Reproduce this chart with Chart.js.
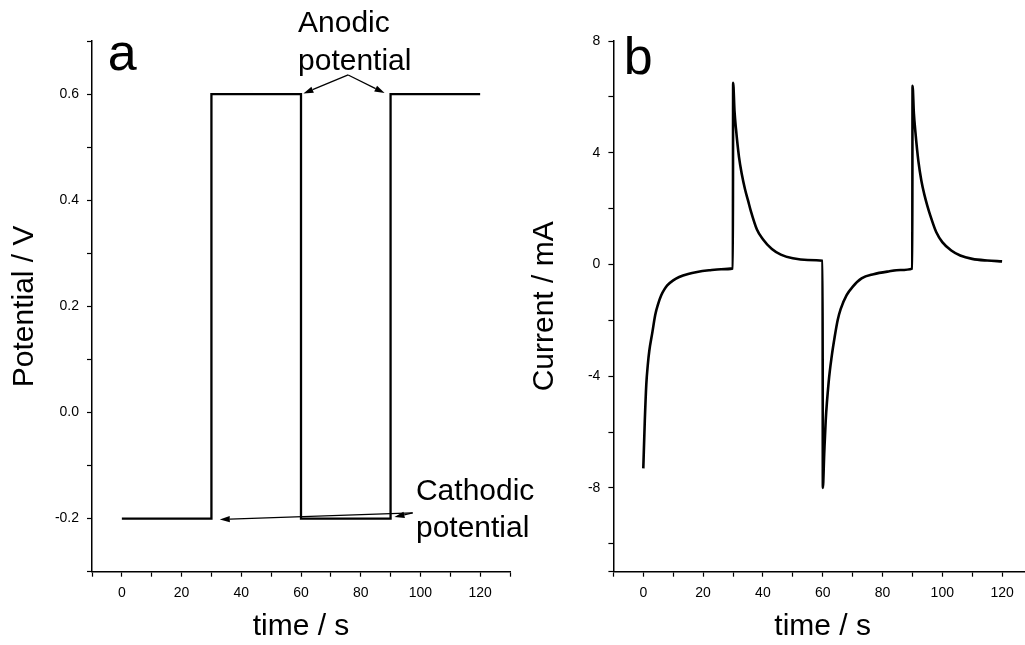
<!DOCTYPE html>
<html>
<head>
<meta charset="utf-8">
<title>Potential step and current response</title>
<script src="https://cdn.jsdelivr.net/npm/chart.js@4.4.6/dist/chart.umd.min.js"></script>
<style>
  html, body { margin: 0; padding: 0; background: #fff; overflow: hidden; }
  .panel { position: absolute; top: 0; height: 645px; }
  #panelA { left: 0; width: 570px; }
  #panelB { left: 520px; width: 530px; }
</style>
</head>
<body>
<div class="panel" id="panelA"><canvas id="chartA"></canvas></div>
<div class="panel" id="panelB"><canvas id="chartB"></canvas></div>
<script>
// panel a: applied potential (V) vs time (s)
const timeA = [0, 30, 30, 60, 60, 90, 90, 120]
const potentialA = [-0.2, -0.2, 0.6, 0.6, -0.2, -0.2, 0.6, 0.6]

// panel b: measured current (mA) vs time (s)
const timeB = [
    0, 0.5, 1, 1.5, 2, 3, 4, 5, 6, 7, 8, 10, 12, 15, 18, 22, 26, 29.95,
    30.05, 30.5, 31, 32, 33, 34, 35, 36, 38, 40, 43, 46, 50, 55, 59.95,
    60.05, 60.5, 61, 62, 63, 64, 65, 66, 68, 70, 73, 77, 82, 86, 89.95,
    90.05, 90.5, 91, 92, 93, 94, 95, 96, 98, 100, 103, 106, 110, 115, 120
]
const currentB = [
    -7.3, -5.6, -4.3, -3.6, -3.1, -2.45, -1.8, -1.4, -1.1, -0.9, -0.75, -0.57, -0.45, -0.34, -0.27, -0.21, -0.17, -0.14,
    6.5, 5.5, 4.85, 3.85, 3.2, 2.7, 2.3, 1.9, 1.25, 0.9, 0.55, 0.35, 0.22, 0.16, 0.13,
    -8.0, -6.8, -5.6, -4.2, -3.3, -2.6, -2.0, -1.6, -1.1, -0.8, -0.5, -0.35, -0.25, -0.2, -0.15,
    6.4, 5.4, 4.75, 3.7, 3.0, 2.5, 2.1, 1.75, 1.15, 0.8, 0.5, 0.32, 0.2, 0.14, 0.11
]

const FONT = 'Arial, "Liberation Sans", sans-serif'

// text labels and arrows drawn in data coordinates
const notesPlugin = {
    id: "notes",
    afterDraw(chart, args, opts) {
        const { ctx } = chart
        const sx = chart.scales.x
        const sy = chart.scales.y
        ctx.save()
        ctx.fillStyle = "#000"
        ctx.strokeStyle = "#000"
        ;(opts.texts || []).forEach(t => {
            ctx.font = `${t.size}px ${FONT}`
            ctx.textAlign = "left"
            ctx.textBaseline = "alphabetic"
            const px = sx.getPixelForValue(t.x)
            const py = sy.getPixelForValue(t.y)
            t.lines.forEach((line, i) => ctx.fillText(line, px, py + i * t.gap))
        })
        ;(opts.arrows || []).forEach(a => {
            const x1 = sx.getPixelForValue(a.from[0])
            const y1 = sy.getPixelForValue(a.from[1])
            const x2 = sx.getPixelForValue(a.to[0])
            const y2 = sy.getPixelForValue(a.to[1])
            const ang = Math.atan2(y2 - y1, x2 - x1)
            const len = 10, half = 3.2
            const bx = x2 - len * Math.cos(ang)
            const by = y2 - len * Math.sin(ang)
            ctx.lineWidth = 1.3
            ctx.beginPath()
            ctx.moveTo(x1, y1)
            ctx.lineTo(bx, by)
            ctx.stroke()
            ctx.beginPath()
            ctx.moveTo(x2, y2)
            ctx.lineTo(bx + half * Math.sin(ang), by - half * Math.cos(ang))
            ctx.lineTo(bx - half * Math.sin(ang), by + half * Math.cos(ang))
            ctx.closePath()
            ctx.fill()
        })
        ctx.restore()
    }
}

function xScale() {
    return {
        type: "linear",
        min: -10,
        max: 130,
        ticks: {
            stepSize: 10,
            autoSkip: false,
            maxRotation: 0,
            color: "#000",
            padding: 8,
            font: { size: 14, family: FONT },
            callback: v => (v >= 0 && v % 20 === 0 ? String(v) : "")
        },
        grid: { drawOnChartArea: false, drawTicks: true, tickLength: 5, tickWidth: 1.2, tickColor: "#000" },
        border: { color: "#000", width: 1.5 },
        title: {
            display: true,
            text: "time / s",
            color: "#000",
            font: { size: 30, family: FONT },
            padding: { top: 0, bottom: 0 }
        },
        afterFit: s => { s.height = 73.3 }
    }
}

function yScale(min, max, step, label, width, callback) {
    return {
        type: "linear",
        min: min,
        max: max,
        ticks: {
            stepSize: step,
            autoSkip: false,
            color: "#000",
            padding: 8,
            font: { size: 14, family: FONT },
            callback: callback
        },
        grid: { drawOnChartArea: false, drawTicks: true, tickLength: 5, tickWidth: 1.2, tickColor: "#000" },
        border: { color: "#000", width: 1.5 },
        title: {
            display: true,
            text: label,
            color: "#000",
            font: { size: 30, family: FONT },
            padding: { top: 6.5, bottom: 0 }
        },
        afterFit: s => { s.width = width }
    }
}

function lineData(xs, ys) {
    return xs.map((x, i) => ({ x: x, y: ys[i] }))
}

new Chart(document.getElementById("chartA"), {
    type: "line",
    data: {
        datasets: [{
            data: lineData(timeA, potentialA),
            borderColor: "#000",
            borderWidth: 2.3,
            pointRadius: 0,
            tension: 0
        }]
    },
    options: {
        responsive: true,
        maintainAspectRatio: false,
        animation: false,
        layout: { padding: { top: 41, right: 60, left: 0, bottom: 0 } },
        plugins: {
            legend: { display: false },
            tooltip: { enabled: false },
            notes: {
                texts: [
                    { x: -4.7, y: 0.645, size: 52, gap: 0, lines: ["a"] },
                    { x: 59, y: 0.717, size: 30, gap: 38, lines: ["Anodic", "potential"] },
                    { x: 98.5, y: -0.165, size: 30, gap: 37, lines: ["Cathodic", "potential"] }
                ],
                arrows: [
                    { from: [75.8, 0.636], to: [60.8, 0.601] },
                    { from: [75.8, 0.636], to: [88, 0.602] },
                    { from: [97.4, -0.189], to: [32.8, -0.2016] },
                    { from: [97.4, -0.189], to: [91.3, -0.197] }
                ]
            }
        },
        scales: {
            x: xScale(),
            y: yScale(-0.3, 0.7, 0.1, "Potential / V", 92, v => {
                const k = Math.round(v * 10)
                return k % 2 === 0 ? (k / 10).toFixed(1) : ""
            })
        }
    },
    plugins: [notesPlugin]
})

new Chart(document.getElementById("chartB"), {
    type: "line",
    data: {
        datasets: [{
            data: lineData(timeB, currentB),
            borderColor: "#000",
            borderWidth: 2.6,
            pointRadius: 0,
            cubicInterpolationMode: "monotone"
        }]
    },
    options: {
        responsive: true,
        maintainAspectRatio: false,
        animation: false,
        layout: { padding: { top: 41, right: 18, left: 0, bottom: 0 } },
        plugins: {
            legend: { display: false },
            tooltip: { enabled: false },
            notes: {
                texts: [
                    { x: -6.5, y: 6.83, size: 52, gap: 0, lines: ["b"] }
                ]
            }
        },
        scales: {
            x: xScale(),
            y: yScale(-11, 8, 2, "Current / mA", 93.4, v => (v % 4 === 0 ? String(v) : ""))
        }
    },
    plugins: [notesPlugin]
})
</script>
</body>
</html>
